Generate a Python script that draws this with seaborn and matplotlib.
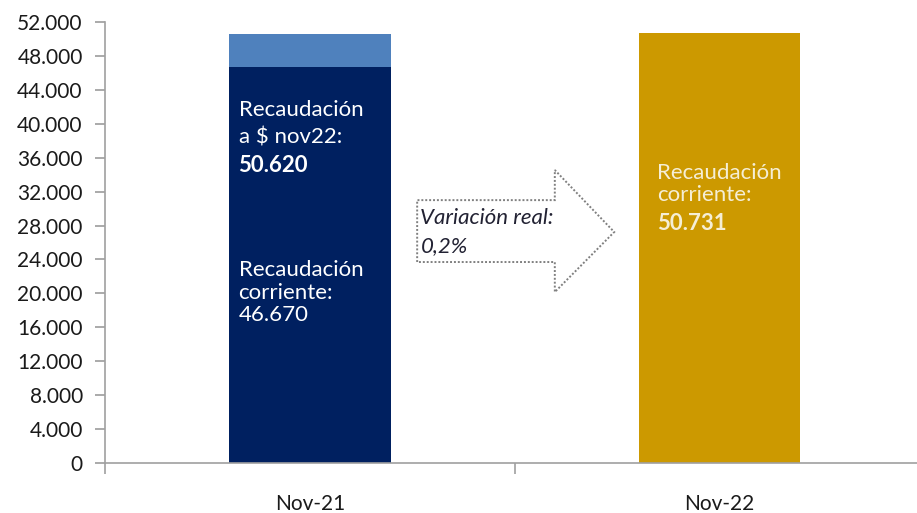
import numpy as np
import pandas as pd
import seaborn as sns
import matplotlib.pyplot as plt
from matplotlib.patches import Polygon
from matplotlib.ticker import FuncFormatter, MultipleLocator

# data
categorias = ["Nov-21", "Nov-22"]
total = [50620, 50731]          # recaudación a $ nov22 / corriente
corriente = [46670, 0]          # base oscura solo para Nov-21
colores_total = ["#4F81BD", "#CC9900"]
variacion = "0,2%"


def fmt(v):
    return f"{int(v):,}".replace(",", ".")


sns.set_theme(style="white")
plt.rcParams['font.family'] = ['Lato', 'DejaVu Sans']

fig = plt.figure(figsize=(9.17, 5.13), dpi=100)
# x axis runs a little past the right edge, like in the original
ax = fig.add_axes([0.1145, 0.0975, 0.8935, 0.8595])

df_total = pd.DataFrame({"cat": categorias, "valor": total})
df_base = pd.DataFrame({"cat": categorias, "valor": corriente})

sns.barplot(data=df_total, x="cat", y="valor", hue="cat", palette=colores_total,
            width=0.394, dodge=False, legend=False, ax=ax, saturation=1, linewidth=0)
sns.barplot(data=df_base, x="cat", y="valor", hue="cat", palette=["#002060", "#CC9900"],
            width=0.394, dodge=False, legend=False, ax=ax, saturation=1, linewidth=0)

ax.set_xlim(-0.5, 1.5)
ax.set_ylim(0, 52000)
ax.yaxis.set_major_locator(MultipleLocator(4000))
ax.yaxis.set_major_formatter(FuncFormatter(lambda v, p: fmt(v)))
ax.set_xlabel("")
ax.set_ylabel("")

for s in ["top", "right"]:
    ax.spines[s].set_visible(False)
for s in ["left", "bottom"]:
    ax.spines[s].set_color("#A0A0A0")
    ax.spines[s].set_linewidth(1.2)

ax.tick_params(axis="y", which="major", left=True, length=7, color="#A0A0A0",
               labelsize=15, pad=9, labelcolor="#1a1a1a")
ax.tick_params(axis="x", which="major", length=0, labelsize=15, pad=22, labelcolor="#1a1a1a")
ax.set_xticks([-0.5, 0.5, 1.5], minor=True)
ax.tick_params(axis="x", which="minor", bottom=True, length=8, color="#A0A0A0", width=1.2)

fs = 16
# texts inside bars (one call per line)
x0 = -0.174
for txt, y, w in [("Recaudación", 41620, "normal"), ("a $ nov22:", 38440, "normal"),
                  (fmt(total[0]), 35140, "bold"),
                  ("Recaudación", 22760, "normal"), ("corriente:", 20040, "normal"),
                  (fmt(corriente[0]), 17450, "normal")]:
    ax.text(x0, y, txt, color="white", fontsize=fs, va="center", ha="left", fontweight=w)

x1 = 0.848
for txt, y, w in [("Recaudación", 34200, "normal"), ("corriente:", 31600, "normal"),
                  (fmt(total[1]), 28300, "bold")]:
    ax.text(x1, y, txt, color="#F5EED5", fontsize=fs, va="center", ha="left", fontweight=w)

# arrow
arrow = Polygon([(0.262, 23700), (0.262, 31000), (0.598, 31000), (0.598, 34550),
                 (0.743, 27240), (0.598, 20160), (0.598, 23700)],
                closed=True, facecolor="white", edgecolor="#808080",
                linestyle=(0, (1, 1)), linewidth=1.4, zorder=3)
ax.add_patch(arrow)
ax.text(0.270, 28890, "Variación real:", fontstyle="italic", fontsize=fs,
        color="#222233", va="center", ha="left", zorder=4)
ax.text(0.270, 25590, variacion, fontstyle="italic", fontsize=fs,
        color="#222233", va="center", ha="left", zorder=4)

fig.savefig("out.png", dpi=100)
